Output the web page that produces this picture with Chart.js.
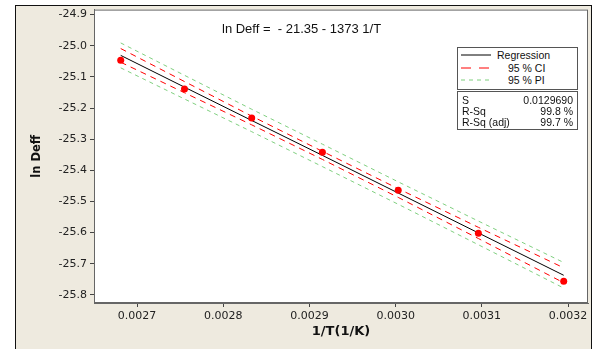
<!DOCTYPE html>
<html>
<head>
<meta charset="utf-8">
<script src="https://cdn.jsdelivr.net/npm/chart.js@4.4.0/dist/chart.umd.min.js"></script>
<style>
  html, body { margin: 0; padding: 0; background: #fff; }
  #wrap { position: relative; width: 595px; height: 349px; overflow: hidden; }
  #frame { position: absolute; left: 15px; top: 5px; width: 575px; height: 360px;
           background: #eeeadf; border: 1px solid #111; }
  canvas { position: absolute; left: 0; top: 0; }
  .txt { position: absolute; white-space: nowrap; font-family: "Liberation Sans", Arial, sans-serif; color: #111; }
  .box { position: absolute; background: #fff; border: 1px solid #555; }
  .box .txt { font-size: 10.5px; line-height: 12px; }
</style>
</head>
<body>
<div id="wrap">
  <div id="frame"></div>
  <canvas id="regChart" width="595" height="349"></canvas>

  <div class="txt" id="eqn" style="left:222px; top:21px; font-size:13px;">ln Deff =&nbsp; - 21.35 - 1373 1/T</div>

  <div class="box" style="left:457px; top:47px; width:119px; height:41px;">
    <svg style="position:absolute; left:2px; top:0;" width="34" height="40">
      <line x1="1" y1="7" x2="31" y2="7" stroke="#000" stroke-width="1"/>
      <line x1="1" y1="20" x2="29" y2="20" stroke="#f00" stroke-width="1" stroke-dasharray="10,8"/>
      <line x1="1" y1="32" x2="31" y2="32" stroke="#7fd07f" stroke-width="1" stroke-dasharray="4,4"/>
    </svg>
    <div class="txt" style="left:39px; top:1px;">Regression</div>
    <div class="txt" style="left:50px; top:14px;">95 % CI</div>
    <div class="txt" style="left:50px; top:26px;">95 % PI</div>
  </div>

  <div class="box" style="left:457px; top:91px; width:119px; height:37px;">
    <div class="txt" style="left:4px; top:2px;">S</div>
    <div class="txt" style="right:4px; top:2px;">0.0129690</div>
    <div class="txt" style="left:4px; top:13px;">R-Sq</div>
    <div class="txt" style="right:4px; top:13px;">99.8 %</div>
    <div class="txt" style="left:4px; top:24px;">R-Sq (adj)</div>
    <div class="txt" style="right:4px; top:24px;">99.7 %</div>
  </div>
</div>

<script>
// ----- data -----
const invT    = [0.002681, 0.002755, 0.002833, 0.002915, 0.003003, 0.003096, 0.003195];
const lnDeff  = [-25.047, -25.139, -25.232, -25.342, -25.464, -25.602, -25.756];
const fitLine = [-25.031, -25.133, -25.240, -25.352, -25.473, -25.601, -25.737];
const ciUpper = [-25.009, -25.115, -25.226, -25.339, -25.459, -25.583, -25.713];
const ciLower = [-25.053, -25.151, -25.254, -25.365, -25.487, -25.619, -25.761];
const piUpper = [-24.991, -25.095, -25.204, -25.316, -25.437, -25.563, -25.696];
const piLower = [-25.071, -25.171, -25.276, -25.388, -25.509, -25.639, -25.778];

function pts(ys) {
    return invT.map((x, i) => ({ x: x, y: ys[i] }));
}

// white plot area + frame around it
const plotFrame = {
    id: 'plotFrame',
    beforeDraw(chart) {
        const a = chart.chartArea, ctx = chart.ctx;
        ctx.save();
        ctx.fillStyle = '#fff';
        ctx.fillRect(a.left, a.top, a.right - a.left, a.bottom - a.top);
        ctx.restore();
    },
    afterDraw(chart) {
        const a = chart.chartArea, ctx = chart.ctx;
        ctx.save();
        ctx.strokeStyle = '#666';
        ctx.lineWidth = 1;
        ctx.strokeRect(a.left + 0.5, a.top + 0.5, a.right - a.left - 1, a.bottom - a.top - 1);
        ctx.restore();
    }
};

const lineDs = (label, ys, color, dash, order) => ({
    label: label,
    data: pts(ys),
    showLine: true,
    borderColor: color,
    borderWidth: 1,
    borderDash: dash,
    pointRadius: 0,
    fill: false,
    order: order
});

const ctx = document.getElementById('regChart').getContext('2d');
new Chart(ctx, {
    type: 'scatter',
    data: {
        datasets: [
            {
                label: 'ln Deff',
                data: pts(lnDeff),
                backgroundColor: '#ff0000',
                borderColor: '#ff0000',
                pointRadius: 3.5,
                pointBorderWidth: 0,
                order: 0
            },
            lineDs('Regression', fitLine, '#000', [], 1),
            lineDs('95 % CI', ciUpper, '#ff0000', [6, 5], 2),
            lineDs('95 % CI', ciLower, '#ff0000', [6, 5], 2),
            lineDs('95 % PI', piUpper, '#80d080', [4, 4], 3),
            lineDs('95 % PI', piLower, '#80d080', [4, 4], 3)
        ]
    },
    options: {
        responsive: false,
        animation: false,
        layout: { padding: { top: 9, right: 7, left: 0, bottom: 0 } },
        plugins: { legend: { display: false }, tooltip: { enabled: false } },
        scales: {
            x: {
                type: 'linear',
                min: 0.00265,
                max: 0.0032232,
                afterFit: s => { s.height = 46; },
                grid: { drawOnChartArea: false, tickLength: 4, color: '#444' },
                border: { color: '#666' },
                ticks: {
                    stepSize: 0.0001,
                    includeBounds: false,
                    color: '#222',
                    padding: 3,
                    maxRotation: 0,
                    font: { family: 'DejaVu Sans', size: 11 },
                    callback: v => v.toFixed(4)
                },
                title: {
                    display: true,
                    text: '1/T(1/K)',
                    color: '#111',
                    font: { family: 'DejaVu Sans', size: 13, weight: 'bold' },
                    padding: { top: 0, bottom: 10 }
                }
            },
            y: {
                min: -25.826,
                max: -24.884,
                afterFit: s => { s.width = 94; },
                grid: { drawOnChartArea: false, tickLength: 4, color: '#444' },
                border: { color: '#666' },
                ticks: {
                    stepSize: 0.1,
                    includeBounds: false,
                    color: '#222',
                    padding: 3,
                    font: { family: 'DejaVu Sans', size: 11 },
                    callback: v => v.toFixed(1)
                },
                title: {
                    display: true,
                    text: 'ln Deff',
                    color: '#111',
                    font: { family: 'DejaVu Sans', size: 11.5, weight: 'bold' },
                    padding: { top: 30, bottom: 0 }
                }
            }
        }
    },
    plugins: [plotFrame]
});
</script>
</body>
</html>
